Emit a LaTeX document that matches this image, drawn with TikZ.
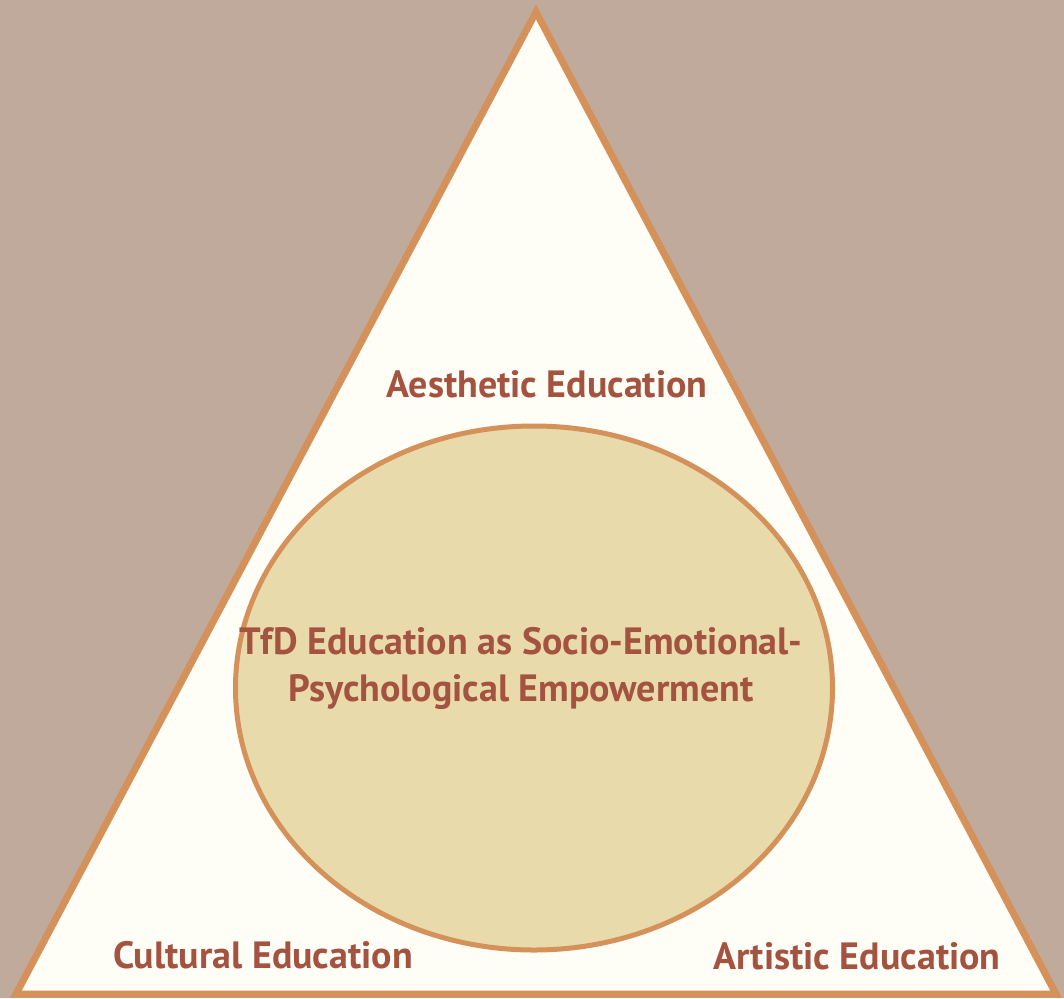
\documentclass[tikz,border=0pt]{standalone}
\usepackage{fontspec}
\setmainfont{PT Sans}
\usetikzlibrary{shapes}

\definecolor{backdrop}{HTML}{C0AA9C}
\definecolor{rim}{HTML}{D4915A}
\definecolor{paper}{HTML}{FEFDF6}
\definecolor{core}{HTML}{E8DAAA}
\definecolor{label}{HTML}{A3533F}

\begin{document}
\begin{tikzpicture}[x=1pt, y=-1pt,
    lbl/.style={text=label, font=\bfseries\fontsize{38}{47}\selectfont, inner sep=0pt, align=center}]
            \fill[backdrop] (0,0) rectangle (1064,998);
            \useasboundingbox (0,0) rectangle (1064,998);

            \coordinate (top) at (536,12);
            \coordinate (bl) at (16,994);
            \coordinate (br) at (1056,994);
            \filldraw[fill=paper, draw=rim, line width=7pt, line join=miter] (top) -- (bl) -- (br) -- cycle;

            \node[ellipse, draw=rim, fill=core, line width=5pt, minimum width=597pt, minimum height=524pt] (E) at (534,688) {};

            \node[lbl] (A) at (547,384) {Aesthetic Education};
            \node[lbl] (C) at (263,955) {Cultural Education};
            \node[lbl] (R) at (857,956) {Artistic Education};
            \node[lbl] (T) at (521,668) {TfD Education as Socio-Emotional-\\Psychological Empowerment};
          \end{tikzpicture}
\end{document}
